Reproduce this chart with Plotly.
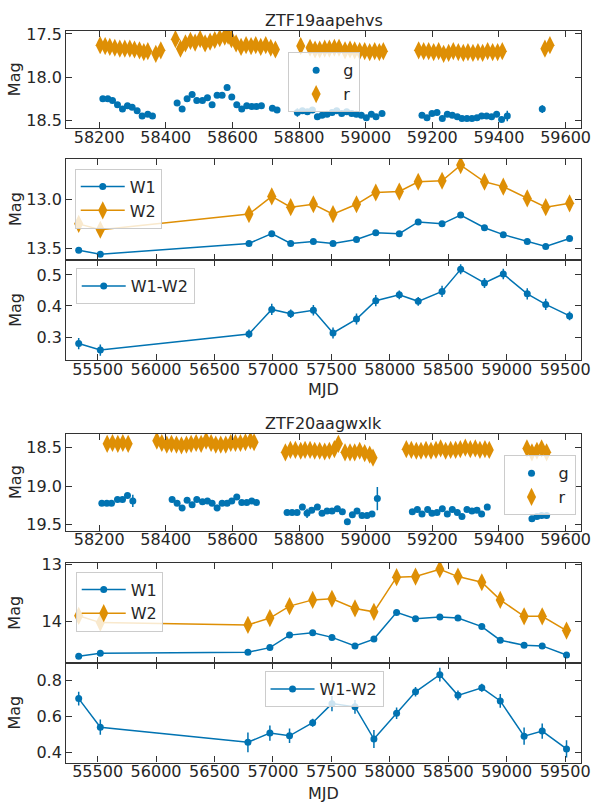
import plotly.graph_objects as go

# ---------------- ZTF19aapehvs : ZTF optical light curve ----------------
z19_g_mjd = [58211, 58226, 58240, 58255, 58270, 58285, 58299, 58314, 58329, 58346, 58360,
             58434, 58449, 58464, 58479, 58493, 58510, 58525, 58539, 58554, 58569, 58584, 58598,
             58613, 58628, 58643, 58658, 58672, 58687,
             58720, 58734,
             58795, 58810, 58825, 58840, 58855, 58869, 58884, 58899, 58913, 58928, 58943, 58958,
             58972, 58987, 59002, 59017, 59031, 59049,
             59169, 59184, 59199, 59214, 59230, 59245, 59260, 59275, 59289, 59304, 59319, 59334,
             59348, 59363, 59378, 59393, 59408, 59425,
             59530]
z19_g_mag = [18.25, 18.25, 18.27, 18.32, 18.37, 18.33, 18.35, 18.39, 18.45, 18.43, 18.45,
             18.30, 18.37, 18.25, 18.20, 18.27, 18.27, 18.24, 18.32, 18.21, 18.21, 18.12, 18.23,
             18.32, 18.37, 18.33, 18.34, 18.34, 18.33,
             18.36, 18.38,
             18.41, 18.39, 18.40, 18.38, 18.46, 18.44, 18.43, 18.41, 18.39, 18.42, 18.40, 18.42,
             18.43, 18.44, 18.47, 18.43, 18.46, 18.42,
             18.44, 18.47, 18.42, 18.41, 18.48, 18.43, 18.44, 18.46, 18.48, 18.48, 18.48, 18.47,
             18.45, 18.45, 18.46, 18.43, 18.49, 18.45,
             18.37]
z19_g_err = [0.012, 0.012, 0.012, 0.012, 0.015, 0.012, 0.012, 0.012, 0.015, 0.012, 0.015,
             0.015, 0.015, 0.012, 0.012, 0.012, 0.012, 0.012, 0.012, 0.012, 0.012, 0.012, 0.012,
             0.012, 0.012, 0.012, 0.012, 0.012, 0.012,
             0.015, 0.015,
             0.05, 0.015, 0.015, 0.015, 0.015, 0.012, 0.012, 0.012, 0.012, 0.012, 0.012, 0.012,
             0.012, 0.012, 0.015, 0.012, 0.015, 0.015,
             0.015, 0.015, 0.015, 0.015, 0.015, 0.012, 0.012, 0.012, 0.012, 0.012, 0.012, 0.012,
             0.012, 0.012, 0.015, 0.015, 0.03, 0.06,
             0.045]

z19_r_mjd = [58203, 58218, 58232, 58247, 58262, 58277, 58292, 58306, 58321, 58334, 58346, 58370, 58385,
             58429, 58444, 58459, 58474, 58488, 58503, 58518, 58533, 58547, 58562, 58577, 58587,
             58597, 58611, 58626, 58641, 58656, 58670, 58685, 58700, 58715, 58729,
             58805, 58833, 58848, 58862, 58877, 58891, 58906, 58920, 58938, 58953, 58967, 58982,
             58997, 59012, 59027, 59041, 59053,
             59159, 59174, 59189, 59204, 59219, 59234, 59249, 59263, 59278, 59293, 59307, 59322,
             59337, 59351, 59366, 59381, 59396, 59410,
             59538, 59553]
z19_r_mag = [17.63, 17.64, 17.65, 17.66, 17.67, 17.67, 17.67, 17.68, 17.69, 17.71, 17.70, 17.73, 17.69,
             17.56, 17.67, 17.61, 17.58, 17.60, 17.56, 17.61, 17.59, 17.57, 17.55, 17.53, 17.52,
             17.56, 17.61, 17.65, 17.63, 17.64, 17.63, 17.65, 17.63, 17.66, 17.68,
             17.64, 17.66, 17.68, 17.68, 17.67, 17.67, 17.66, 17.66, 17.69, 17.68, 17.69, 17.70,
             17.70, 17.71, 17.70, 17.71, 17.70,
             17.69, 17.70, 17.70, 17.71, 17.70, 17.73, 17.72, 17.70, 17.71, 17.72, 17.71, 17.72,
             17.71, 17.72, 17.70, 17.71, 17.71, 17.70,
             17.67, 17.63]

# ---------------- ZTF19aapehvs : WISE light curve ----------------
z19_w_mjd = [55338, 55523, 56795, 56990, 57152, 57346, 57514, 57715, 57880,
             58081, 58243, 58447, 58606, 58810, 58971, 59176, 59334, 59538]
z19_w1 = [13.52, 13.56, 13.45, 13.35, 13.45, 13.43, 13.45, 13.41, 13.34,
          13.35, 13.23, 13.25, 13.16, 13.29, 13.36, 13.43, 13.48, 13.40]
z19_w1_err = [0.008, 0.008, 0.008, 0.008, 0.008, 0.008, 0.008, 0.008, 0.008,
              0.008, 0.008, 0.008, 0.008, 0.008, 0.008, 0.008, 0.008, 0.008]
z19_w2 = [13.25, 13.31, 13.15, 12.97, 13.08, 13.05, 13.15, 13.05, 12.93,
          12.92, 12.82, 12.81, 12.65, 12.82, 12.87, 12.99, 13.08, 13.04]
z19_w2_err = [0.015, 0.015, 0.012, 0.015, 0.012, 0.015, 0.015, 0.015, 0.015,
              0.012, 0.012, 0.015, 0.015, 0.015, 0.015, 0.015, 0.015, 0.012]
z19_color = [0.279, 0.258, 0.310, 0.389, 0.375, 0.386, 0.313, 0.358, 0.417,
             0.436, 0.415, 0.447, 0.518, 0.474, 0.503, 0.439, 0.405, 0.368]
z19_color_err = [0.018, 0.018, 0.014, 0.018, 0.014, 0.017, 0.018, 0.018, 0.018,
                 0.014, 0.014, 0.018, 0.016, 0.016, 0.017, 0.018, 0.018, 0.014]

# ---------------- ZTF20aagwxlk : ZTF optical light curve ----------------
z20_g_mjd = [58208, 58223, 58237, 58255, 58270, 58285, 58301,
             58419, 58434, 58449, 58464, 58479, 58493, 58510, 58525, 58539, 58554, 58569, 58584,
             58598, 58613, 58628, 58643, 58658, 58672,
             58764, 58779, 58794, 58810, 58824, 58838, 58855, 58869, 58884, 58899, 58915, 58930,
             58945, 58960, 58974, 58989, 59004, 59019, 59035,
             59140, 59155, 59169, 59186, 59199, 59214, 59230, 59245, 59260, 59275, 59289, 59304,
             59319, 59334, 59348, 59365,
             59499, 59514, 59528, 59543]
z20_g_mag = [19.22, 19.22, 19.22, 19.17, 19.17, 19.12, 19.19,
             19.17, 19.22, 19.28, 19.18, 19.24, 19.17, 19.20, 19.19, 19.22, 19.28, 19.22, 19.22,
             19.19, 19.14, 19.21, 19.21, 19.19, 19.21,
             19.34, 19.34, 19.34, 19.27, 19.35, 19.31, 19.27, 19.35, 19.32, 19.32, 19.29, 19.33,
             19.46, 19.37, 19.32, 19.38, 19.38, 19.36, 19.16,
             19.33, 19.30, 19.36, 19.30, 19.35, 19.34, 19.29, 19.36, 19.30, 19.34, 19.39, 19.30,
             19.32, 19.31, 19.36, 19.27,
             19.42, 19.39, 19.38, 19.38]
z20_g_err = [0.02, 0.025, 0.02, 0.02, 0.02, 0.02, 0.08,
             0.02, 0.02, 0.02, 0.02, 0.02, 0.02, 0.02, 0.02, 0.02, 0.04, 0.02, 0.02,
             0.02, 0.02, 0.02, 0.02, 0.02, 0.025,
             0.02, 0.02, 0.02, 0.03, 0.06, 0.02, 0.02, 0.02, 0.02, 0.02, 0.02, 0.02,
             0.025, 0.02, 0.02, 0.02, 0.02, 0.02, 0.15,
             0.02, 0.02, 0.02, 0.02, 0.02, 0.02, 0.02, 0.02, 0.02, 0.02, 0.02, 0.02,
             0.02, 0.02, 0.02, 0.02,
             0.02, 0.02, 0.02, 0.025]

z20_r_mjd = [58224, 58240, 58256, 58271, 58287,
             58373, 58388, 58403, 58417, 58432, 58447, 58462, 58476, 58491, 58506, 58521,
             58536, 58550, 58565, 58580, 58595, 58609, 58624, 58639, 58654, 58665,
             58759, 58774, 58789, 58805, 58818, 58833, 58847, 58862, 58877, 58891, 58906, 58918,
             58938, 58953, 58967, 58982, 58997, 59012, 59022,
             59122, 59137, 59152, 59166, 59181, 59196, 59211, 59225, 59240, 59255, 59270, 59284,
             59299, 59314, 59329, 59343, 59358, 59371,
             59484, 59499, 59514, 59528, 59543]
z20_r_mag = [18.45, 18.44, 18.45, 18.44, 18.45,
             18.41, 18.44, 18.46, 18.45, 18.46, 18.47, 18.46, 18.45, 18.44, 18.45, 18.41,
             18.44, 18.46, 18.46, 18.46, 18.44, 18.44, 18.44, 18.43, 18.41, 18.43,
             18.56, 18.53, 18.53, 18.54, 18.53, 18.53, 18.54, 18.54, 18.55, 18.54, 18.52, 18.45,
             18.56, 18.56, 18.56, 18.54, 18.57, 18.59, 18.63,
             18.52, 18.53, 18.54, 18.54, 18.53, 18.54, 18.53, 18.51, 18.54, 18.53, 18.53, 18.52,
             18.50, 18.52, 18.51, 18.53, 18.52, 18.53,
             18.51, 18.56, 18.54, 18.51, 18.56]

# ---------------- ZTF20aagwxlk : WISE light curve ----------------
z20_w_mjd = [55338, 55523, 56786, 56974, 57142, 57340, 57505, 57702, 57864,
             58058, 58220, 58428, 58583, 58787, 58945, 59149, 59304, 59512]
z20_w1 = [14.61, 14.56, 14.54, 14.46, 14.24, 14.20, 14.28, 14.43, 14.31,
          13.84, 13.95, 13.92, 13.94, 14.09, 14.33, 14.42, 14.43, 14.59]
z20_w1_err = [0.015, 0.015, 0.015, 0.015, 0.012, 0.012, 0.012, 0.015, 0.015,
              0.01, 0.01, 0.01, 0.01, 0.012, 0.015, 0.015, 0.015, 0.015]
z20_w2 = [13.90, 14.02, 14.06, 13.94, 13.73, 13.62, 13.60, 13.77, 13.83,
          13.22, 13.21, 13.08, 13.21, 13.31, 13.62, 13.91, 13.91, 14.16]
z20_w2_err = [0.035, 0.04, 0.05, 0.04, 0.035, 0.02, 0.04, 0.035, 0.045,
              0.03, 0.025, 0.035, 0.025, 0.02, 0.035, 0.045, 0.04, 0.045]
z20_color = [0.700, 0.541, 0.457, 0.508, 0.493, 0.566, 0.672, 0.654, 0.475,
             0.619, 0.738, 0.833, 0.718, 0.760, 0.687, 0.491, 0.519, 0.420]
z20_color_err = [0.038, 0.042, 0.055, 0.042, 0.04, 0.022, 0.042, 0.038, 0.05,
                 0.032, 0.027, 0.038, 0.027, 0.022, 0.038, 0.048, 0.043, 0.048]

names = ["ZTF19aapehvs", "ZTF20aagwxlk"]

# ---------------- styling ----------------
W, H = 603, 809
BLUE = "#0173b2"
ORANGE = "#de8f05"
TXT = "#262626"
SPINE = "#333333"
FONT = "DejaVu Sans"
CIRCLE = 7
DIAMOND = 13


def fx(p):
    return p / W


def fy(p):
    return 1 - p / H


X0, X1 = 67.3, 590.7
# (top, bottom) pixel rows of the six panels
boxes = [(23, 122), (153, 255.5), (255.5, 357.7),
         (432, 530.7), (563.3, 664.7), (664.7, 766)]
ranges_y = [[18.591, 17.462], [13.616, 12.585], [0.2248, 0.549],
            [19.577, 18.318], [14.728, 12.97], [0.3436, 0.899]]
ticks_y = [[17.5, 18.0, 18.5], [13.0, 13.5], [0.3, 0.4, 0.5],
           [18.5, 19.0, 19.5], [13, 14], [0.4, 0.6, 0.8]]
ticktext_y = [["17.5", "18.0", "18.5"], ["13.0", "13.5"], ["0.3", "0.4", "0.5"],
              ["18.5", "19.0", "19.5"], ["13", "14"], ["0.4", "0.6", "0.8"]]
opt_range = [58101, 59646]
wise_range = [55231, 59635]
opt_ticks = [58200, 58400, 58600, 58800, 59000, 59200, 59400, 59600]
wise_ticks = [55500, 56000, 56500, 57000, 57500, 58000, 58500, 59000, 59500]

fig = go.Figure()


def err(vals, color):
    return dict(type="data", array=vals, visible=True, color=color,
                thickness=1.5, width=0)


def add_optical(k, g_x, g_y, g_e, r_x, r_y, legend):
    ax = dict(xaxis=f"x{k}", yaxis=f"y{k}")
    fig.add_trace(go.Scatter(x=g_x, y=g_y, error_y=err(g_e, BLUE), mode="markers",
                             name="g", marker=dict(color=BLUE, size=CIRCLE, symbol="circle"),
                             legend=legend, **ax))
    fig.add_trace(go.Scatter(x=r_x, y=r_y, mode="markers", name="r",
                             marker=dict(color=ORANGE, size=DIAMOND, symbol="diamond-tall"),
                             legend=legend, **ax))


def add_wise(k, x, w1, w1e, w2, w2e, legend):
    ax = dict(xaxis=f"x{k}", yaxis=f"y{k}")
    fig.add_trace(go.Scatter(x=x, y=w1, error_y=err(w1e, BLUE), mode="lines+markers",
                             name="W1", line=dict(color=BLUE, width=1.5),
                             marker=dict(color=BLUE, size=CIRCLE), legend=legend, **ax))
    fig.add_trace(go.Scatter(x=x, y=w2, error_y=err(w2e, ORANGE), mode="lines+markers",
                             name="W2", line=dict(color=ORANGE, width=1.5),
                             marker=dict(color=ORANGE, size=DIAMOND, symbol="diamond-tall"),
                             legend=legend, **ax))


def add_color(k, x, c, ce, legend):
    fig.add_trace(go.Scatter(x=x, y=c, error_y=err(ce, BLUE), mode="lines+markers",
                             name="W1-W2", line=dict(color=BLUE, width=1.5),
                             marker=dict(color=BLUE, size=CIRCLE), legend=legend,
                             xaxis=f"x{k}", yaxis=f"y{k}"))


add_optical(1, z19_g_mjd, z19_g_mag, z19_g_err, z19_r_mjd, z19_r_mag, "legend")
add_wise(2, z19_w_mjd, z19_w1, z19_w1_err, z19_w2, z19_w2_err, "legend2")
add_color(3, z19_w_mjd, z19_color, z19_color_err, "legend3")
add_optical(4, z20_g_mjd, z20_g_mag, z20_g_err, z20_r_mjd, z20_r_mag, "legend4")
add_wise(5, z20_w_mjd, z20_w1, z20_w1_err, z20_w2, z20_w2_err, "legend5")
add_color(6, z20_w_mjd, z20_color, z20_color_err, "legend6")

axis_common = dict(showline=True, linecolor=SPINE, linewidth=1.3, mirror="ticks",
                   ticks="inside", ticklen=6, tickwidth=1.3, tickcolor=SPINE,
                   showgrid=False, zeroline=False,
                   tickfont=dict(family=FONT, size=16, color=TXT))

layout = dict(width=W, height=H, margin=dict(l=0, r=0, t=0, b=0),
              paper_bgcolor="white", plot_bgcolor="white",
              font=dict(family=FONT, size=16, color=TXT))

for i in range(6):
    k = i + 1
    top, bot = boxes[i]
    optical = i in (0, 3)
    xa = dict(axis_common, domain=[fx(X0), fx(X1)], anchor=f"y{k}",
              range=opt_range if optical else wise_range,
              tickvals=opt_ticks if optical else wise_ticks,
              ticktext=[str(t) for t in (opt_ticks if optical else wise_ticks)],
              showticklabels=i not in (1, 4), ticklabelstandoff=-6)
    ya = dict(axis_common, domain=[fy(bot), fy(top)], anchor=f"x{k}",
              range=ranges_y[i], tickvals=ticks_y[i], ticktext=ticktext_y[i])
    layout[f"xaxis{k}" if k > 1 else "xaxis"] = xa
    layout[f"yaxis{k}" if k > 1 else "yaxis"] = ya

leg_common = dict(xanchor="left", yanchor="top", bgcolor="rgba(255,255,255,0.8)",
                  bordercolor="#cccccc", borderwidth=1, itemwidth=44,
                  font=dict(family=FONT, size=16, color=TXT), tracegroupgap=0)
layout["legend"] = dict(leg_common, x=fx(293), y=fy(45))
layout["legend2"] = dict(leg_common, x=fx(76), y=fy(163))
layout["legend3"] = dict(leg_common, x=fx(77), y=fy(264))
layout["legend4"] = dict(leg_common, x=fx(512), y=fy(454))
layout["legend5"] = dict(leg_common, x=fx(77), y=fy(572))
layout["legend6"] = dict(leg_common, x=fx(269), y=fy(673))

ann = []
xc = fx((X0 + X1) / 2)
for name, ty in zip(names, (12.5, 421.5)):
    ann.append(dict(text=name, x=xc, y=fy(ty), xref="paper", yref="paper",
                    xanchor="center", yanchor="middle", showarrow=False,
                    font=dict(family=FONT, size=16, color=TXT)))
for ty in (387, 797):
    ann.append(dict(text="MJD", x=xc, y=fy(ty), xref="paper", yref="paper",
                    xanchor="center", yanchor="middle", showarrow=False,
                    font=dict(family=FONT, size=16, color=TXT)))
for top, bot in boxes:
    ann.append(dict(text="Mag", x=fx(15), y=fy((top + bot) / 2), xref="paper",
                    yref="paper", xanchor="center", yanchor="middle", textangle=-90,
                    showarrow=False, font=dict(family=FONT, size=16, color=TXT)))
layout["annotations"] = ann
layout["showlegend"] = True

fig.update_layout(**layout)
fig.write_html("out.html")
